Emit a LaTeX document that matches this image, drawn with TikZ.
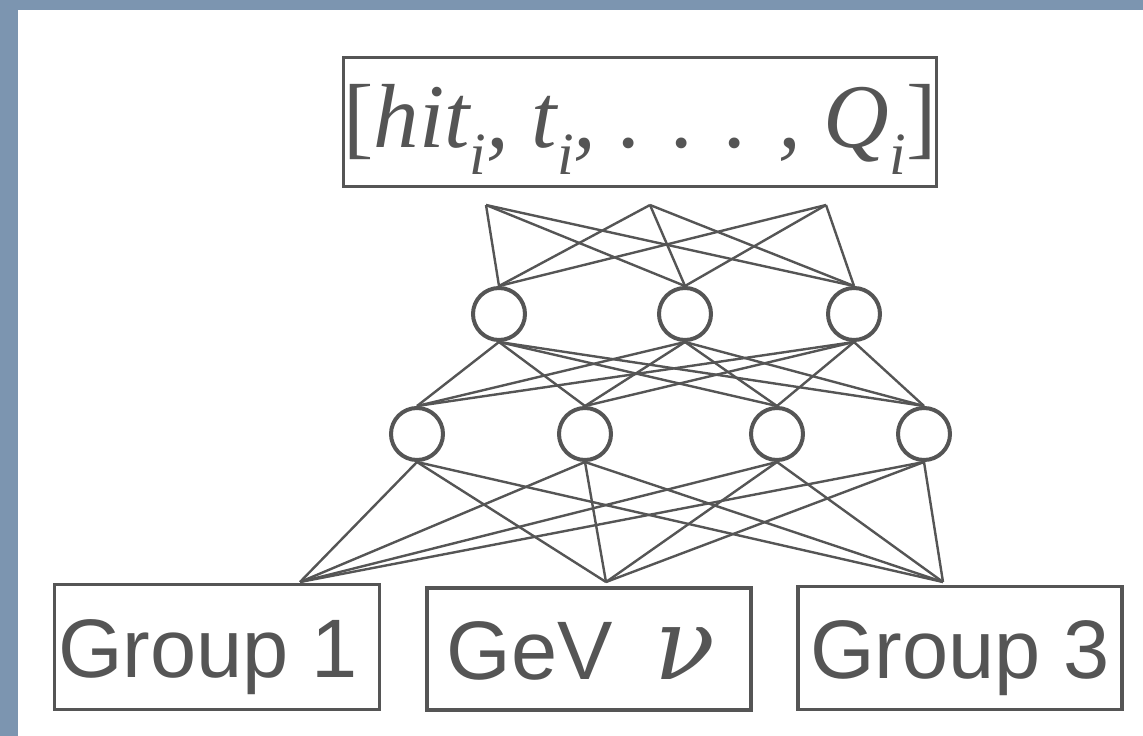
\documentclass[tikz,border=0pt]{standalone}
\usepackage{fix-cm}
\usepackage{fontspec}
\setsansfont{Liberation Sans}
\newfontfamily\serifit{Liberation Serif Italic}
\newfontfamily\serifup{Liberation Serif}
\newfontfamily\greekit{DejaVu Serif Italic}
\newcommand{\subi}{\raisebox{-0.3em}{\fontsize{60}{60}\selectfont i}}
\definecolor{slateback}{RGB}{124,149,176}
\definecolor{pencil}{RGB}{85,85,85}
\tikzset{
  neuron/.style={
    circle,
    draw=pencil,
    line width=4pt,
    minimum size=52pt,
    inner sep=0pt
  },
  labelbox/.style={
    rectangle,
    draw=pencil,
    line width=3.5pt,
    inner sep=0pt,
    text=pencil,
    text height=62pt,
    text depth=2pt,
    font=\sffamily\fontsize{83}{90}\selectfont
  },
  link/.style={
    draw=pencil,
    line width=2.4pt
  }
}

\begin{document}
\begin{tikzpicture}[x=1pt, y=-1pt]
  \fill[slateback] (0,0) rectangle (1143,736);
  \fill[white] (18,10) rectangle (1143,736);
  \useasboundingbox (0,0) rectangle (1143,736);

  % input features
  \node[labelbox, minimum width=589pt, minimum height=129pt, text height=68pt, text depth=18pt,
        font=\serifit\fontsize{91}{100}\selectfont] (feat) at (640,122)
    {{\serifup[}hit\subi, t\subi, . . . , Q\subi{\serifup]}};
  \coordinate (in1) at (486,205);
  \coordinate (in2) at (650,205);
  \coordinate (in3) at (826,205);

  % hidden layers
  \node[neuron] (ha1) at (499,314) {};
  \node[neuron] (ha2) at (685,314) {};
  \node[neuron] (ha3) at (854,314) {};

  \node[neuron] (hb1) at (417,434) {};
  \node[neuron] (hb2) at (585,434) {};
  \node[neuron] (hb3) at (777,434) {};
  \node[neuron] (hb4) at (924,434) {};

  % output classes
  \node[labelbox, minimum width=325pt, minimum height=125pt] (grp1) at (217,647) {Group 1\hspace*{18pt}};
  \node[labelbox, minimum width=324pt, minimum height=122pt] (gev) at (589,649)
    {GeV\hspace{0.5em}{\greekit\fontsize{100}{100}\selectfont ν}\hspace*{16pt}};
  \node[labelbox, minimum width=324pt, minimum height=123pt] (grp3) at (960,648) {Group 3};
  \coordinate (out1) at (300,582);
  \coordinate (out2) at (606,582);
  \coordinate (out3) at (943,582);

  \foreach \a in {1,2,3}
    \foreach \b in {1,2,3}
      \draw[link] (in\a) -- (ha\b.north);
  \foreach \a in {1,2,3}
    \foreach \b in {1,2,3,4}
      \draw[link] (ha\a.south) -- (hb\b.north);
  \foreach \a in {1,2,3,4}
    \foreach \b in {1,2,3}
      \draw[link] (hb\a.south) -- (out\b);
\end{tikzpicture}
\end{document}
